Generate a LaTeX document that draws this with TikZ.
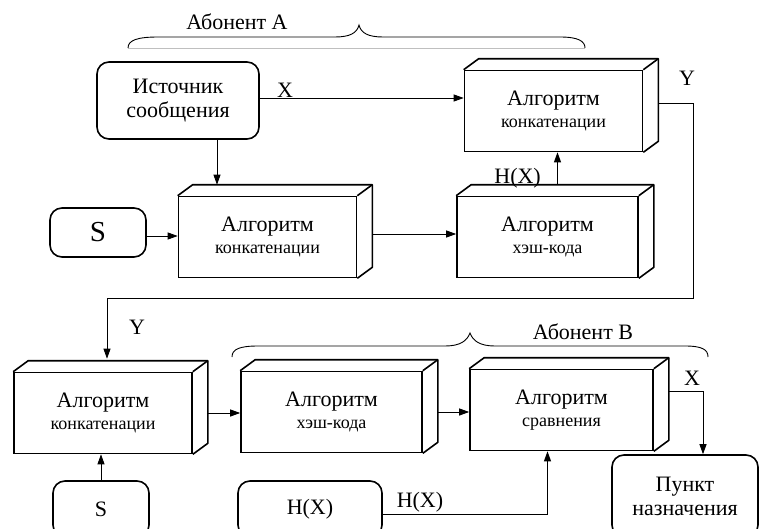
\documentclass[tikz,border=0pt]{standalone}
\usepackage{fontspec}
\setmainfont{Liberation Serif}
\usetikzlibrary{arrows.meta,calc}
\newcommand\smtxt{\fontsize{18}{20}\selectfont}
\newcommand\cuboid[1]{%
  \draw[line width=1.6pt,line join=round] (#1.north west) -- ++(15,-11) -- ([shift={(15,-11)}]#1.north east) -- ([shift={(15,-11)}]#1.south east) -- (#1.south east);
  \draw[line width=1.6pt] (#1.north east) -- ++(15,-11);}
\begin{document}
\begin{tikzpicture}[x=1pt,y=-1pt,
  box3d/.style={draw,line width=1.6pt,minimum width=178pt,minimum height=81pt,inner sep=0pt,align=center,font=\fontsize{22}{20}\selectfont},
  rbox/.style={draw,line width=1.6pt,rounded corners=12pt,inner sep=0pt,align=center,font=\fontsize{22}{24}\selectfont},
  conn/.style={line width=0.9pt},
  arr/.style={conn,-{Triangle[length=10pt,width=7pt]}},
  lbl/.style={inner sep=0pt,font=\fontsize{22}{24}\selectfont},
  bracestyle/.style={line width=0.9pt}]
\useasboundingbox (0,0) rectangle (761,528);
\clip (0,0) rectangle (761,528);
% boxes
\node[box3d] (c1) at (553.5,111) {Алгоритм\\[2pt]{\smtxt конкатенации}};
\node[box3d] (c2) at (267.5,237) {Алгоритм\\[2pt]{\smtxt конкатенации}};
\node[box3d,minimum width=181pt] (hA) at (547.5,237) {Алгоритм\\[2pt]{\smtxt хэш-кода}};
\node[box3d] (b1) at (103,413) {Алгоритм\\[2pt]{\smtxt конкатенации}};
\node[box3d,minimum width=181pt] (hB) at (331.5,412) {Алгоритм\\[2pt]{\smtxt хэш-кода}};
\node[box3d,minimum width=183pt] (cmp) at (561.5,410) {Алгоритм\\[2pt]{\smtxt сравнения}};
\cuboid{c1}\cuboid{c2}\cuboid{hA}\cuboid{b1}\cuboid{hB}\cuboid{cmp}
\node[rbox,minimum width=162pt,minimum height=77pt] (src) at (178,100.5) {Источник\\сообщения};
\node[rbox,minimum width=96pt,minimum height=49pt,font=\fontsize{29}{30}\selectfont] (sA) at (98,232.5) {S};
\node[rbox,minimum width=96pt,minimum height=56pt] (sB) at (101,509) {S};
\node[rbox,minimum width=144pt,minimum height=56pt] (hx) at (310,509) {H(X)};
\node[rbox,minimum width=146pt,minimum height=82pt] (pn) at (685,496) {Пункт\\назначения};
% braces
\draw[gray!50,line width=0.6pt] (128,48) -- (585,48);
\draw[bracestyle] (128,48) .. controls (128,40) and (138,37) .. (158,37) -- (335,37) .. controls (350,37) and (357,33) .. (359,25) .. controls (361,33) and (368,37) .. (383,37) -- (560,37) .. controls (578,37) and (585,41) .. (585,48);
\draw[bracestyle] (232,357) .. controls (232,349) and (240,346) .. (258,346) -- (445,346) .. controls (460,346) and (467,341) .. (470,333) .. controls (473,341) and (480,346) .. (495,346) -- (685,346) .. controls (703,346) and (708,350) .. (708,357);
\node[lbl] (labA) at (237,22) {Абонент A};
\node[lbl] (labB) at (583,332) {Абонент B};
% connectors
\draw[arr] (src.east |- 0,98) -- (c1.west |- 0,98);
\node[lbl] (lx1) at (285,90) {X};
\coordinate (c2t) at ([yshift=11pt]c2.north);
\draw[arr] ([xshift=39pt]src.south) -- ([xshift=39pt]src.south |- c2t);
\draw[arr] (sA.east |- 0,236) -- (c2.west |- 0,236);
\draw[arr] ([xshift=15pt]c2.east |- 0,234) -- (hA.west |- 0,234);
\coordinate (hAt) at ([xshift=10pt,yshift=11pt]hA.north);
\draw[arr] (hAt) -- (hAt |- c1.south);
\node[lbl,anchor=south east] (lhx1) at (541,188) {H(X)};
\coordinate (ycorner) at (693,298);
\coordinate (b1t) at ([xshift=4pt,yshift=13pt]b1.north);
\draw[arr] ([xshift=15pt]c1.east |- 0,103) -| (ycorner) -| (b1t);
\node[lbl] (ly1) at (687,78) {Y};
\node[lbl] (ly2) at (137,327) {Y};
\draw[arr] (sB.north |- 0,481) -- (sB.north |- b1.south);
\draw[arr] ([xshift=14pt]b1.east) -- (hB.west |- b1.east);
\draw[arr] ([xshift=15pt]hB.east) -- (cmp.west |- hB.east);
\coordinate (pnt) at ([xshift=18pt]pn.north);
\draw[arr] ([xshift=15pt]cmp.east |- 0,391) -| (pnt);
\node[lbl] (lx2) at (692,378) {X};
\coordinate (cmpb) at ([xshift=-14pt]cmp.south);
\draw[arr] (hx.east |- 0,514) -| (cmpb);
\node[lbl] (lhx2) at (420,502) {H(X)};
\end{tikzpicture}
\end{document}
